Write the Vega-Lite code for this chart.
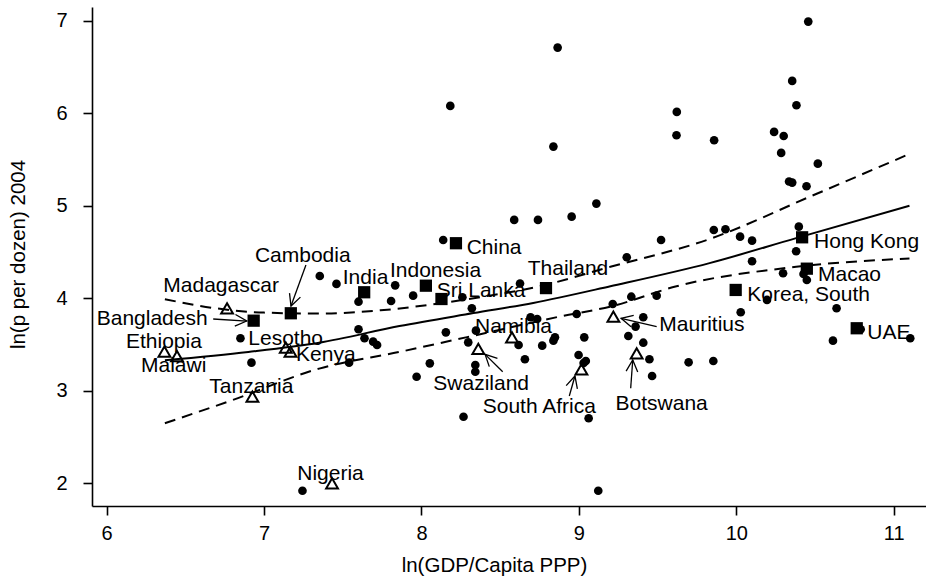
{
  "$schema": "https://vega.github.io/schema/vega-lite/v6.json",
  "width": 834,
  "height": 499,
  "autosize": {"type": "none"},
  "padding": {"left": 92, "top": 7, "right": 0, "bottom": 71},
  "background": "white",
  "config": {
    "view": {"stroke": null},
    "font": "Liberation Sans",
    "axis": {
      "grid": false,
      "domainColor": "black",
      "domainWidth": 1.6,
      "tickColor": "black",
      "tickWidth": 1.6,
      "tickSize": 9,
      "labelColor": "black",
      "labelFont": "Liberation Sans",
      "labelFontSize": 20,
      "titleFont": "Liberation Sans",
      "titleFontSize": 20.5,
      "titleFontWeight": "normal",
      "titleColor": "black"
    }
  },
  "datasets": {
    "pts": [
      {"x": 8.865, "y": 6.709, "g": "o"}, {"x": 8.183, "y": 6.079, "g": "o"}, {"x": 8.838, "y": 5.639, "g": "o"},
      {"x": 8.589, "y": 4.847, "g": "o"}, {"x": 8.740, "y": 4.847, "g": "o"}, {"x": 8.954, "y": 4.882, "g": "o"},
      {"x": 9.111, "y": 5.023, "g": "o"}, {"x": 8.138, "y": 4.630, "g": "o"}, {"x": 8.626, "y": 4.160, "g": "o"},
      {"x": 10.457, "y": 6.990, "g": "o"}, {"x": 10.355, "y": 6.349, "g": "o"}, {"x": 10.382, "y": 6.086, "g": "o"},
      {"x": 9.622, "y": 6.014, "g": "o"}, {"x": 9.620, "y": 5.762, "g": "o"}, {"x": 9.859, "y": 5.708, "g": "o"},
      {"x": 10.240, "y": 5.798, "g": "o"}, {"x": 10.301, "y": 5.754, "g": "o"}, {"x": 10.285, "y": 5.571, "g": "o"},
      {"x": 10.518, "y": 5.455, "g": "o"}, {"x": 10.335, "y": 5.262, "g": "o"}, {"x": 10.355, "y": 5.250, "g": "o"},
      {"x": 10.446, "y": 5.211, "g": "o"}, {"x": 9.857, "y": 4.738, "g": "o"}, {"x": 9.931, "y": 4.746, "g": "o"},
      {"x": 9.522, "y": 4.630, "g": "o"}, {"x": 9.304, "y": 4.443, "g": "o"}, {"x": 10.024, "y": 4.666, "g": "o"},
      {"x": 10.100, "y": 4.623, "g": "o"}, {"x": 10.397, "y": 4.774, "g": "o"}, {"x": 10.380, "y": 4.508, "g": "o"},
      {"x": 10.100, "y": 4.400, "g": "o"}, {"x": 10.297, "y": 4.270, "g": "o"}, {"x": 10.427, "y": 4.263, "g": "o"},
      {"x": 10.448, "y": 4.198, "g": "o"}, {"x": 9.333, "y": 4.017, "g": "o"}, {"x": 9.494, "y": 4.028, "g": "o"},
      {"x": 9.215, "y": 3.938, "g": "o"}, {"x": 9.409, "y": 3.795, "g": "o"}, {"x": 9.360, "y": 3.694, "g": "o"},
      {"x": 9.314, "y": 3.592, "g": "o"}, {"x": 9.409, "y": 3.520, "g": "o"}, {"x": 9.448, "y": 3.341, "g": "o"},
      {"x": 9.465, "y": 3.160, "g": "o"}, {"x": 9.697, "y": 3.308, "g": "o"}, {"x": 9.854, "y": 3.322, "g": "o"},
      {"x": 10.028, "y": 3.849, "g": "o"}, {"x": 10.195, "y": 3.982, "g": "o"}, {"x": 10.637, "y": 3.892, "g": "o"},
      {"x": 10.790, "y": 3.665, "g": "o"}, {"x": 10.614, "y": 3.542, "g": "o"}, {"x": 11.105, "y": 3.568, "g": "o"},
      {"x": 7.460, "y": 4.155, "g": "o"}, {"x": 7.600, "y": 3.963, "g": "o"}, {"x": 7.833, "y": 4.140, "g": "o"},
      {"x": 7.807, "y": 3.971, "g": "o"}, {"x": 7.947, "y": 4.028, "g": "o"}, {"x": 8.260, "y": 4.011, "g": "o"},
      {"x": 8.320, "y": 3.892, "g": "o"}, {"x": 8.693, "y": 3.795, "g": "o"}, {"x": 8.735, "y": 3.776, "g": "o"},
      {"x": 8.346, "y": 3.650, "g": "o"}, {"x": 8.155, "y": 3.632, "g": "o"}, {"x": 8.297, "y": 3.524, "g": "o"},
      {"x": 7.600, "y": 3.665, "g": "o"}, {"x": 7.638, "y": 3.568, "g": "o"}, {"x": 7.693, "y": 3.531, "g": "o"},
      {"x": 7.718, "y": 3.495, "g": "o"}, {"x": 7.540, "y": 3.304, "g": "o"}, {"x": 7.969, "y": 3.152, "g": "o"},
      {"x": 8.053, "y": 3.297, "g": "o"}, {"x": 8.342, "y": 3.279, "g": "o"}, {"x": 8.342, "y": 3.206, "g": "o"},
      {"x": 8.617, "y": 3.495, "g": "o"}, {"x": 8.657, "y": 3.341, "g": "o"}, {"x": 8.767, "y": 3.488, "g": "o"},
      {"x": 8.838, "y": 3.542, "g": "o"}, {"x": 8.848, "y": 3.578, "g": "o"}, {"x": 8.986, "y": 3.830, "g": "o"},
      {"x": 9.034, "y": 3.578, "g": "o"}, {"x": 8.998, "y": 3.387, "g": "o"}, {"x": 9.044, "y": 3.322, "g": "o"},
      {"x": 9.030, "y": 3.300, "g": "o"}, {"x": 9.062, "y": 2.703, "g": "o"}, {"x": 8.267, "y": 2.720, "g": "o"},
      {"x": 9.123, "y": 1.920, "g": "o"}, {"x": 7.244, "y": 1.920, "g": "o"}, {"x": 6.850, "y": 3.568, "g": "o"},
      {"x": 6.920, "y": 3.304, "g": "o"}, {"x": 7.354, "y": 4.241, "g": "o"},
      {"x": 8.219, "y": 4.595, "g": "s", "c": "China"}, {"x": 7.636, "y": 4.065, "g": "s", "c": "India"},
      {"x": 8.028, "y": 4.136, "g": "s", "c": "Indonesia"}, {"x": 8.127, "y": 3.992, "g": "s", "c": "Sri Lanka"},
      {"x": 8.791, "y": 4.110, "g": "s", "c": "Thailand"}, {"x": 7.170, "y": 3.838, "g": "s", "c": "Cambodia"},
      {"x": 6.934, "y": 3.758, "g": "s", "c": "Bangladesh"}, {"x": 10.418, "y": 4.659, "g": "s", "c": "Hong Kong"},
      {"x": 10.448, "y": 4.320, "g": "s", "c": "Macao"}, {"x": 9.996, "y": 4.090, "g": "s", "c": "Korea, South"},
      {"x": 10.765, "y": 3.676, "g": "s", "c": "UAE"},
      {"x": 6.765, "y": 3.892, "g": "t", "c": "Madagascar"}, {"x": 6.367, "y": 3.423, "g": "t", "c": "Ethiopia"},
      {"x": 6.447, "y": 3.376, "g": "t", "c": "Malawi"}, {"x": 6.926, "y": 2.936, "g": "t", "c": "Tanzania"},
      {"x": 7.138, "y": 3.466, "g": "t", "c": "Lesotho"}, {"x": 7.168, "y": 3.423, "g": "t", "c": "Kenya"},
      {"x": 7.432, "y": 2.000, "g": "t", "c": "Nigeria"}, {"x": 8.575, "y": 3.578, "g": "t", "c": "Namibia"},
      {"x": 8.361, "y": 3.452, "g": "t", "c": "Swaziland"}, {"x": 9.016, "y": 3.232, "g": "t", "c": "South Africa"},
      {"x": 9.367, "y": 3.405, "g": "t", "c": "Botswana"}, {"x": 9.219, "y": 3.801, "g": "t", "c": "Mauritius"}
    ],
    "fit": [
      {"s": "fit", "x": 6.37, "y": 3.33}, {"s": "fit", "x": 6.9, "y": 3.42}, {"s": "fit", "x": 7.35, "y": 3.52},
      {"s": "fit", "x": 7.86, "y": 3.70}, {"s": "fit", "x": 8.33, "y": 3.84}, {"s": "fit", "x": 8.71, "y": 3.95},
      {"s": "fit", "x": 9.2, "y": 4.13}, {"s": "fit", "x": 9.83, "y": 4.38}, {"s": "fit", "x": 10.38, "y": 4.65},
      {"s": "fit", "x": 11.1, "y": 5.0},
      {"s": "hi", "x": 6.37, "y": 3.99}, {"s": "hi", "x": 6.7, "y": 3.89}, {"s": "hi", "x": 7.0, "y": 3.845},
      {"s": "hi", "x": 7.35, "y": 3.835}, {"s": "hi", "x": 7.74, "y": 3.87}, {"s": "hi", "x": 8.29, "y": 3.99},
      {"s": "hi", "x": 8.75, "y": 4.13}, {"s": "hi", "x": 9.2, "y": 4.34}, {"s": "hi", "x": 9.83, "y": 4.64},
      {"s": "hi", "x": 10.47, "y": 5.10}, {"s": "hi", "x": 11.1, "y": 5.56},
      {"s": "lo", "x": 6.37, "y": 2.65}, {"s": "lo", "x": 6.8, "y": 2.90}, {"s": "lo", "x": 7.35, "y": 3.24},
      {"s": "lo", "x": 7.86, "y": 3.42}, {"s": "lo", "x": 8.29, "y": 3.58}, {"s": "lo", "x": 8.9, "y": 3.81},
      {"s": "lo", "x": 9.2, "y": 3.91}, {"s": "lo", "x": 9.62, "y": 4.13}, {"s": "lo", "x": 10.38, "y": 4.34},
      {"s": "lo", "x": 11.1, "y": 4.43}
    ],
    "labels": [
      {"t": "Cambodia", "x": 6.942, "y": 4.392}, {"t": "Madagascar", "x": 6.360, "y": 4.068},
      {"t": "Bangladesh", "x": 5.937, "y": 3.711}, {"t": "Ethiopia", "x": 6.123, "y": 3.459},
      {"t": "Malawi", "x": 6.218, "y": 3.200}, {"t": "Lesotho", "x": 6.900, "y": 3.495},
      {"t": "Kenya", "x": 7.203, "y": 3.322}, {"t": "Tanzania", "x": 6.652, "y": 2.973},
      {"t": "Nigeria", "x": 7.211, "y": 2.036}, {"t": "India", "x": 7.500, "y": 4.149},
      {"t": "Indonesia", "x": 7.800, "y": 4.227}, {"t": "China", "x": 8.287, "y": 4.478},
      {"t": "Thailand", "x": 8.675, "y": 4.248}, {"t": "Sri Lanka", "x": 8.097, "y": 4.017},
      {"t": "Namibia", "x": 8.340, "y": 3.621}, {"t": "Swaziland", "x": 8.075, "y": 3.008},
      {"t": "South Africa", "x": 8.389, "y": 2.757}, {"t": "Botswana", "x": 9.233, "y": 2.795},
      {"t": "Mauritius", "x": 9.511, "y": 3.649}, {"t": "Korea, South", "x": 10.070, "y": 3.974},
      {"t": "UAE", "x": 10.832, "y": 3.556}, {"t": "Hong Kong", "x": 10.494, "y": 4.540},
      {"t": "Macao", "x": 10.519, "y": 4.187}
    ],
    "arrows": [
      {"x0": 7.266, "y0": 4.359, "x": 7.171, "y": 3.916, "a": 110.1},
      {"x0": 6.677, "y0": 3.776, "x": 6.890, "y": 3.754, "a": 3.4},
      {"x0": 8.516, "y0": 3.206, "x": 8.404, "y": 3.394, "a": 224.5},
      {"x0": 8.939, "y0": 2.944, "x": 8.975, "y": 3.160, "a": 285.9},
      {"x0": 9.329, "y0": 3.027, "x": 9.342, "y": 3.333, "a": 274.0},
      {"x0": 9.494, "y0": 3.693, "x": 9.268, "y": 3.783, "a": 193.2}
    ]
  },
  "encoding": {
    "x": {
      "field": "x", "type": "quantitative",
      "scale": {"domain": [5.907, 11.205], "nice": false, "zero": false},
      "axis": {
        "values": [6, 7, 8, 9, 10, 11], "title": "ln(GDP/Capita PPP)",
        "labelPadding": 8, "titleX": 402, "titleY": 65, "titleBaseline": "alphabetic", "titleAlign": "center"
      }
    },
    "y": {
      "field": "y", "type": "quantitative",
      "scale": {"domain": [1.755, 7.148], "nice": false, "zero": false},
      "axis": {
        "values": [2, 3, 4, 5, 6, 7], "title": "ln(p per dozen) 2004",
        "labelPadding": 16, "titleX": -68, "titleY": 247, "titleBaseline": "alphabetic", "titleAlign": "center", "titleAngle": -90
      }
    }
  },
  "layer": [
    {
      "data": {"name": "fit"},
      "transform": [{"filter": "datum.s === 'fit'"}],
      "mark": {"type": "line", "color": "black", "strokeWidth": 2, "interpolate": "monotone"}
    },
    {
      "data": {"name": "fit"},
      "transform": [{"filter": "datum.s !== 'fit'"}],
      "mark": {"type": "line", "color": "black", "strokeWidth": 2, "strokeDash": [11, 7], "interpolate": "monotone"},
      "encoding": {"detail": {"field": "s"}}
    },
    {
      "data": {"name": "pts"},
      "transform": [{"filter": "datum.g === 'o'"}],
      "mark": {"type": "circle", "size": 75, "color": "black", "opacity": 1}
    },
    {
      "data": {"name": "pts"},
      "transform": [{"filter": "datum.g === 's'"}],
      "mark": {"type": "square", "size": 150, "color": "black", "opacity": 1}
    },
    {
      "data": {"name": "pts"},
      "transform": [{"filter": "datum.g === 't'"}],
      "mark": {"type": "point", "shape": "triangle-up", "size": 140, "filled": false, "color": "black", "strokeWidth": 2, "opacity": 1}
    },
    {
      "data": {"name": "arrows"},
      "mark": {"type": "rule", "color": "black", "strokeWidth": 1.3},
      "encoding": {
        "x": {"field": "x0", "type": "quantitative"},
        "y": {"field": "y0", "type": "quantitative"},
        "x2": {"field": "x"},
        "y2": {"field": "y"}
      }
    },
    {
      "data": {"name": "arrows"},
      "mark": {"type": "point", "shape": "M-1,-0.5L0,0L-1,0.5", "size": 540, "filled": false, "color": "black", "strokeWidth": 1.3, "opacity": 1},
      "encoding": {"angle": {"field": "a", "type": "quantitative", "scale": null}}
    },
    {
      "data": {"name": "labels"},
      "mark": {"type": "text", "align": "left", "baseline": "alphabetic", "fontSize": 21, "font": "Liberation Sans", "color": "black"},
      "encoding": {"text": {"field": "t"}}
    }
  ]
}
